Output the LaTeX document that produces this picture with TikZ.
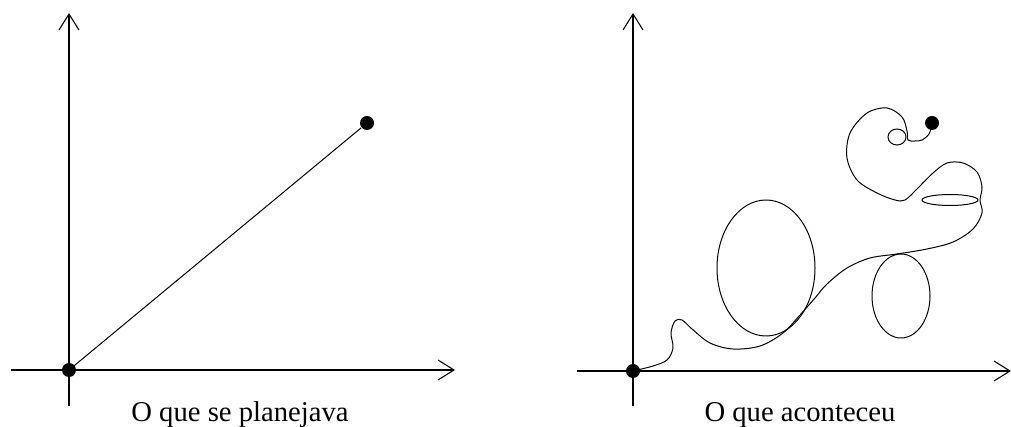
\documentclass[tikz,border=0pt]{standalone}
\usepackage{fontspec}
\setmainfont{Liberation Serif}
\usetikzlibrary{arrows.meta}

\begin{document}
\begin{tikzpicture}[
  x=0.75pt, y=-0.75pt,
  line width=0.75pt,
  axis/.style={-{Straight Barb[length=12pt, width=15pt]}, line width=0.8pt},
  dot/.style={circle, fill=black, inner sep=0pt, minimum size=10.5pt},
  path/.style={line width=0.75pt},
  caption/.style={font=\fontsize{21.5}{25}\selectfont, anchor=base},
]
\useasboundingbox (0,0) rectangle (1011,427);

% -- Planned --
\coordinate (xl1) at (11,370);
\coordinate (xr1) at (455,370);
\coordinate (yb1) at (69,406);
\coordinate (yt1) at (69,13);
\draw[axis] (xl1) -- (xr1);
\draw[axis] (yb1) -- (yt1);
\node[dot] (orig1) at (69,370) {};
\node[dot] (goal1) at (367,123) {};
\draw[path] (orig1.center) -- (goal1);
\node[caption] (cap1) at (240,422) {O que se planejava};

% -- What happened --
\coordinate (xl2) at (577,371);
\coordinate (xr2) at (1011,371);
\coordinate (yb2) at (633,406);
\coordinate (yt2) at (633,13);
\draw[axis] (xl2) -- (xr2);
\draw[axis] (yb2) -- (yt2);
\node[dot] (orig2) at (633,371) {};
\node[dot] (goal2) at (932,123) {};
\draw[path] plot[smooth, tension=0.55] coordinates {
  (633,371) (653,366) (667,360) (673,348) (671,333) (675,321) (682,320)
  (692,329) (710,343) (733,349) (760,346) (783,333) (800,315) (815,298)
  (827,284) (847,268) (870,258) (897,254) (927,249) (953,242) (973,229)
  (982,213) (980,200) (982,187) (977,172) (963,163) (947,163) (933,173)
  (917,189) (905,200) (895,200) (877,193) (857,180) (847,158) (850,133)
  (867,113) (887,108) (902,117) (907,131) (908,140) (915,141) (922,140)
  (929,134) (932,124)};
\draw[path] (766,268) ellipse [x radius=49, y radius=68];
\draw[path] (901,296) ellipse [x radius=29, y radius=42];
\draw[path] (950,200) ellipse [x radius=28, y radius=5.5];
\draw[path] (897,137) ellipse [x radius=9, y radius=8];
\node[caption] (cap2) at (800,422) {O que aconteceu};
\end{tikzpicture}
\end{document}
